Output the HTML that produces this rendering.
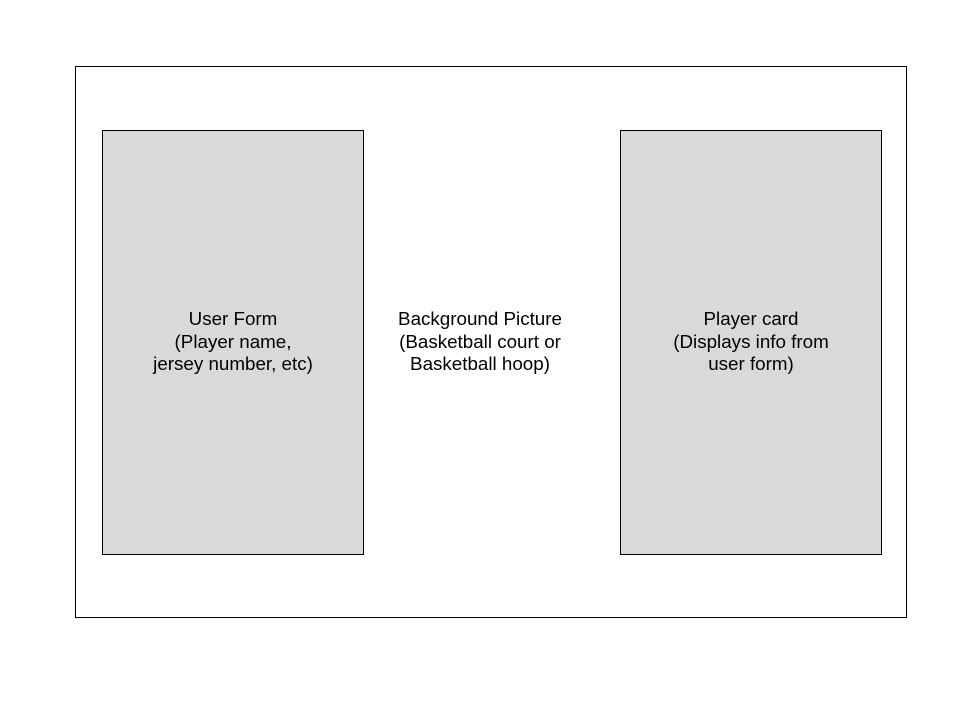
<!DOCTYPE html>
<html><head><style>
body{margin:0;width:960px;height:720px;background:#fff;position:relative;font-family:"Liberation Sans",sans-serif;}
.b{position:absolute;box-sizing:border-box;border:1px solid #000;}
.t{position:absolute;text-align:center;font-size:18.8px;line-height:22.5px;color:#000;}
</style></head><body>
<div class="b" style="left:75px;top:66px;width:832px;height:552px;"></div>
<div class="b" style="left:102px;top:130px;width:262px;height:425px;background:#d9d9d9;"></div>
<div class="b" style="left:620px;top:130px;width:262px;height:425px;background:#d9d9d9;"></div>
<div class="t" style="left:102px;top:308px;width:262px;">User Form<br>(Player name,<br>jersey number, etc)</div>
<div class="t" style="left:370px;top:308px;width:220px;">Background Picture<br>(Basketball court or<br>Basketball hoop)</div>
<div class="t" style="left:620px;top:308px;width:262px;">Player card<br>(Displays info from<br>user form)</div>
</body></html>
